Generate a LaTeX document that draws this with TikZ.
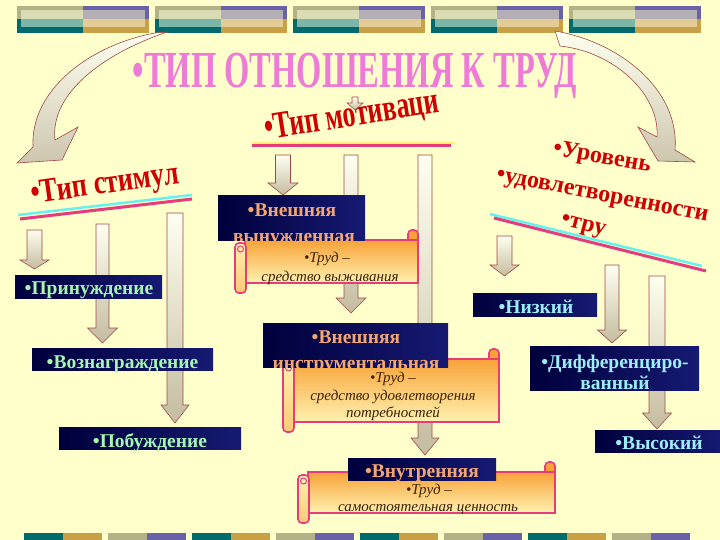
\documentclass[tikz,border=0pt]{standalone}
\usepackage{fontspec}
\setmainfont{Liberation Serif}

\definecolor{bgyel}{HTML}{FFFFCC}
\definecolor{stripkhaki}{HTML}{B2B286}
\definecolor{strippale}{HTML}{DADDB4}
\definecolor{stripteal}{HTML}{006A6C}
\definecolor{striptealin}{HTML}{7CB6A8}
\definecolor{strippurp}{HTML}{6A62A8}
\definecolor{strippurpin}{HTML}{B4AEB6}
\definecolor{stripgold}{HTML}{C8A046}
\definecolor{stripgoldin}{HTML}{E4CC96}
\definecolor{navyA}{HTML}{00003C}
\definecolor{navyB}{HTML}{161A72}
\definecolor{wordred}{HTML}{D00000}
\definecolor{titlepink}{HTML}{EE7CD6}
\definecolor{scrollpink}{HTML}{E63C7C}
\definecolor{scrolltop}{HTML}{F8A238}
\definecolor{scrollbot}{HTML}{FFF2B0}
\definecolor{arrowline}{HTML}{A04848}
\definecolor{arrowtop}{HTML}{FFFFF0}
\definecolor{arrowbot}{HTML}{C4BCA0}
\definecolor{txtgreen}{HTML}{A6F6B0}
\definecolor{txtorange}{HTML}{F4A672}
\definecolor{txtcyan}{HTML}{9CEEFA}
\definecolor{txtbrown}{HTML}{3C2208}
\definecolor{linecyan}{HTML}{66F0F0}
\definecolor{lineyel}{HTML}{FFF070}

\tikzset{
  navybox/.style={rectangle, left color=navyA, right color=navyB, inner sep=0pt, anchor=north west},
  boxtext/.style={font=\bfseries\fontsize{19.5}{19.5}\selectfont, inner sep=0pt, anchor=base},
  scrolltext/.style={text=txtbrown, font=\itshape\fontsize{15}{15}\selectfont, inner sep=0pt, anchor=base},
  headred/.style={text=wordred, font=\bfseries, inner sep=0pt},
  curvearrow/.style={top color=arrowtop, bottom color=arrowbot!85!white, draw=arrowline, line width=0.6pt}
}

% one block of the coloured strip at the top
\newcommand{\stripblock}[2]{%
  \fill[stripkhaki] (#1,#2) rectangle (#1+66,#2+13.5);
  \fill[stripteal] (#1,#2+13.5) rectangle (#1+66,#2+27);
  \fill[strippurp] (#1+66,#2) rectangle (#1+132,#2+13.5);
  \fill[stripgold] (#1+66,#2+13.5) rectangle (#1+132,#2+27);
  \fill[strippale] (#1+4,#2+4) rectangle (#1+66,#2+13.5);
  \fill[striptealin] (#1+4,#2+13.5) rectangle (#1+66,#2+21);
  \fill[strippurpin] (#1+66,#2+4) rectangle (#1+128,#2+13.5);
  \fill[stripgoldin] (#1+66,#2+13.5) rectangle (#1+128,#2+21);
}
% block arrow pointing down: x, top, head, tip, shaft half width, head half width
\newcommand{\downblock}[6]{%
  \shadedraw[top color=arrowtop, bottom color=arrowbot, draw=arrowline, line width=0.6pt]
    (#1-#5,#2) -- (#1+#5,#2) -- (#1+#5,#3) -- (#1+#6,#3) -- (#1,#4)
    -- (#1-#6,#3) -- (#1-#5,#3) -- cycle;
}
% scroll: body corners x1,y1,x2,y2
\newcommand{\scrollbox}[4]{%
  \filldraw[fill=scrolltop, draw=scrollpink, line width=1.6pt, rounded corners=4pt]
    (#3-10,#2-10) rectangle (#3,#2+5);
  \shadedraw[top color=scrolltop, bottom color=scrollbot, draw=scrollpink, line width=1.8pt]
    (#1,#2) rectangle (#3,#4);
  \shadedraw[top color=scrollbot, bottom color=scrolltop!50!scrollbot, draw=scrollpink, line width=1.6pt, rounded corners=4pt]
    (#1-10,#2+3) rectangle (#1+1,#4+10);
  \draw[scrollpink, line width=1pt] (#1-4.5,#2+9) circle (3);
}

\begin{document}
\begin{tikzpicture}[x=1pt, y=-1pt]
\useasboundingbox (0,0) rectangle (720,540);
\fill[bgyel] (0,0) rectangle (720,540);

% strips
\foreach \bx in {17,155,293,431,569} {\stripblock{\bx}{6}}
\foreach \bx in {24,192,360,528} {
  \fill[stripteal] (\bx,533) rectangle (\bx+39,540);
  \fill[stripgold] (\bx+39,533) rectangle (\bx+78,540);
}
\foreach \bx in {108,276,444,612} {
  \fill[stripkhaki] (\bx,533) rectangle (\bx+39,540);
  \fill[strippurp] (\bx+39,533) rectangle (\bx+78,540);
}

% curved arrows from the strip
\shadedraw[curvearrow] (155,33) .. controls (90,45) and (30,90) .. (33,147) -- (17,163)
  -- (62,160) -- (78,127) -- (55,140) .. controls (50,95) and (100,55) .. (167,32) -- cycle;
\shadedraw[curvearrow] (555,31) .. controls (620,42) and (680,90) .. (675,150) -- (695,162)
  -- (658,161) -- (638,127) -- (657,137) .. controls (660,95) and (615,52) .. (560,46) -- cycle;

% headings
\node[text=titlepink, font=\bfseries\fontsize{52}{52}\selectfont, inner sep=0pt, anchor=base] (title) at (355,88)
  {\scalebox{0.625}[1]{•ТИП ОТНОШЕНИЯ К ТРУД}};
\node[headred, rotate=9, font=\bfseries\fontsize{38}{38}\selectfont] (tipmotiv) at (352,117)
  {\scalebox{0.68}[1]{•Тип мотиваци}};
\node[headred, rotate=8, font=\bfseries\fontsize{34}{34}\selectfont] (tipstim) at (105,186)
  {\scalebox{0.78}[1]{•Тип стимул}};
\node[headred, rotate=-10, font=\bfseries\fontsize{24}{24}\selectfont] (uroven) at (602,158) {•Уровень};
\node[headred, rotate=-11, font=\bfseries\fontsize{24}{24}\selectfont] (udovl) at (602,198) {•удовлетворенности};
\node[headred, rotate=-15, font=\bfseries\fontsize{24}{24}\selectfont] (tru) at (583,227) {•тру};

% underlines
\draw[lineyel, line width=2.5pt] (252,143) -- (455,143);
\draw[scrollpink, line width=3pt] (252,146) -- (451,146);
\draw[linecyan, line width=2.5pt] (18,215) -- (192,195);
\draw[scrollpink, line width=3pt] (20,219) -- (192,199);
\draw[linecyan, line width=2.5pt] (490,214) -- (702,266);
\draw[scrollpink, line width=3pt] (494,218) -- (706,271);

% block arrows
\downblock{355}{97}{103}{110}{3}{8}
\downblock{34.5}{230}{260}{269}{7.5}{14.5}
\downblock{102.5}{224}{328}{343}{6.5}{15}
\downblock{175}{213}{405}{423}{8}{14}
\downblock{283}{155}{183}{195}{7.5}{15}
\downblock{351}{155}{298}{313}{7}{15}
\downblock{425}{155}{438}{455}{7}{14}
\downblock{504.5}{236}{265}{276}{7.5}{14.5}
\downblock{612}{265}{330}{343}{7}{14.5}
\downblock{657}{276}{413}{429}{8}{14.5}

% stimulus boxes
\node[navybox, minimum width=147pt, minimum height=23pt] (prinuzhd) at (15,275) {};
\node[navybox, minimum width=181pt, minimum height=22pt] (voznagr) at (32,348) {};
\node[navybox, minimum width=182pt, minimum height=22pt] (pobuzhd) at (59,427) {};
\node[boxtext, text=txtgreen] (prinuzhdtxt) at (89,294) {•Принуждение};
\node[boxtext, text=txtgreen] (voznagrtxt) at (122.5,368) {•Вознаграждение};
\node[boxtext, text=txtgreen] (pobuzhdtxt) at (150,447) {•Побуждение};

% motivation scrolls and boxes
\scrollbox{245}{240}{418}{283}
\node[navybox, minimum width=147pt, minimum height=45pt] (vneshvyn) at (218,195) {};
\begin{scope}
  \clip (vneshvyn.north west) rectangle (vneshvyn.south east);
  \node[boxtext, text=txtorange] (vneshvyntxt) at (292,216) {•Внешняя};
  \node[boxtext, text=txtorange] (vyntxt) at (294,242) {вынужденная};
\end{scope}
\node[scrolltext] (trud1) at (327,262) {•Труд –};
\node[scrolltext] (vyzh) at (330,281) {средство выживания};

\scrollbox{293}{359}{499}{422}
\node[navybox, minimum width=185pt, minimum height=44pt] (vneshinstr) at (263,323) {};
\begin{scope}
  \clip (vneshinstr.north west) rectangle (vneshinstr.south east);
  \node[boxtext, text=txtorange] (vneshinstrtxt) at (356,343) {•Внешняя};
  \node[boxtext, text=txtorange] (instrtxt) at (356,369) {инструментальная};
\end{scope}
\node[scrolltext] (trud2) at (393,382) {•Труд –};
\node[scrolltext] (udovltxt) at (393,400) {средство удовлетворения};
\node[scrolltext] (potreb) at (393,417) {потребностей};

\scrollbox{308}{472}{555}{513}
\node[navybox, minimum width=148pt, minimum height=22pt] (vnutr) at (348,458) {};
\node[boxtext, text=txtorange] (vnutrtxt) at (422,477) {•Внутренняя};
\node[scrolltext] (trud3) at (429,494) {•Труд –};
\node[scrolltext] (tsennost) at (428,511) {самостоятельная ценность};

% satisfaction boxes
\node[navybox, minimum width=124pt, minimum height=23pt] (nizkiy) at (473,293) {};
\node[navybox, minimum width=169pt, minimum height=44pt] (diff) at (530,346) {};
\node[navybox, minimum width=130pt, minimum height=22pt] (vysokiy) at (595,430) {};
\node[boxtext, text=txtcyan] (nizkiytxt) at (536,313) {•Низкий};
\node[boxtext, text=txtcyan] (difftxt) at (615,368) {•Дифференциро-};
\node[boxtext, text=txtcyan] (vannyitxt) at (615,389) {ванный};
\node[boxtext, text=txtcyan] (vysokiytxt) at (659,449) {•Высокий};
\end{tikzpicture}
\end{document}
